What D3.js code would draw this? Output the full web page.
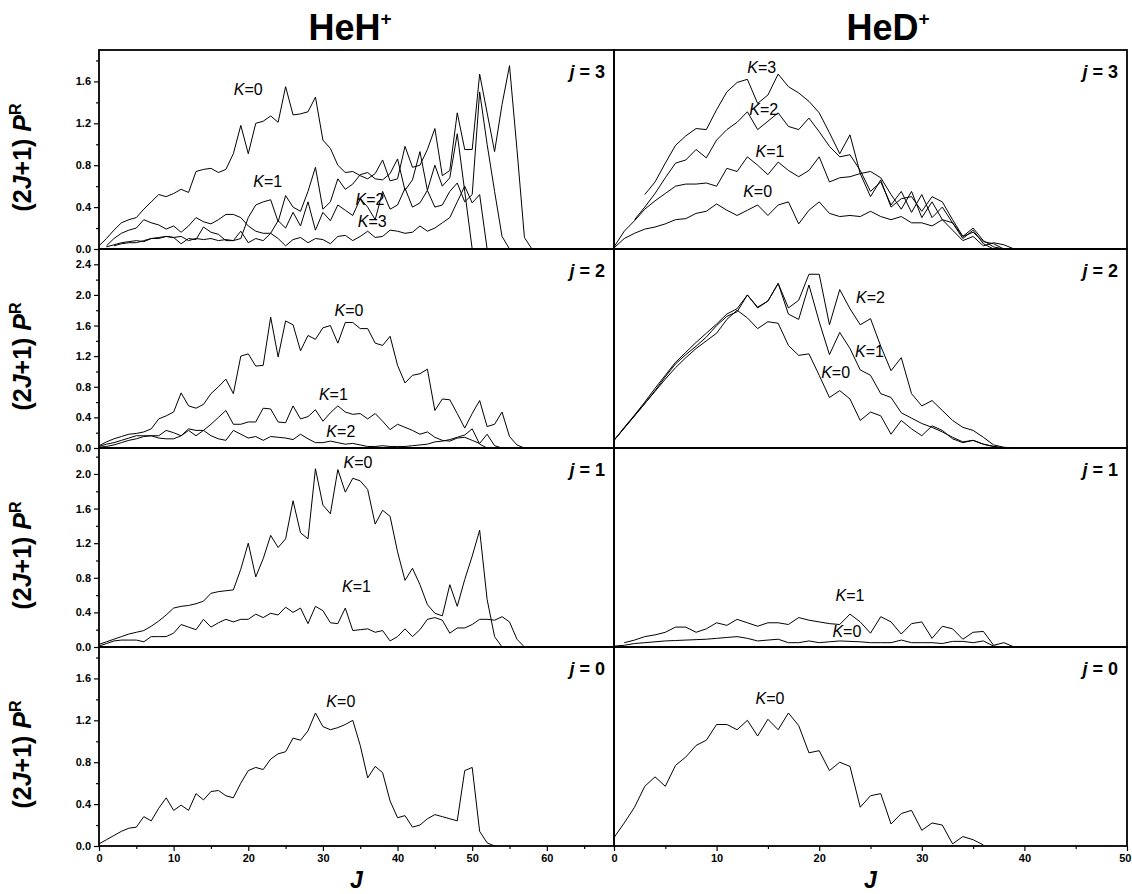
<!DOCTYPE html>
<html>
<head>
<meta charset="utf-8">
<script src="https://cdn.jsdelivr.net/npm/d3@7"></script>
<style>
  body { margin: 0; background: #fff; }
  svg { display: block; }
  text { font-family: "Liberation Sans", Arial, sans-serif; fill: #000; }
</style>
</head>
<body>
<svg id="chart" width="1132" height="894"></svg>
<script>
// panels: columns are molecules, rows are rotor states j
const molecules = ["HeH", "HeD"];
const rotorStates = [3, 2, 1, 0];

const jAxisMax = { HeH: 69, HeD: 50 };
const jTicks = { HeH: [0, 10, 20, 30, 40, 50, 60], HeD: [0, 10, 20, 30, 40, 50] };
const jMinorTicks = { HeH: [5, 15, 25, 35, 45, 55, 65], HeD: [5, 15, 25, 35, 45] };

const probMax = { 3: 1.9, 2: 2.6, 1: 2.3, 0: 1.9 };
const probTicks = {
  3: [0, 0.4, 0.8, 1.2, 1.6],
  2: [0, 0.4, 0.8, 1.2, 1.6, 2.0, 2.4],
  1: [0, 0.4, 0.8, 1.2, 1.6, 2.0],
  0: [0, 0.4, 0.8, 1.2, 1.6]
};
const probMinorTicks = {
  3: [0.2, 0.6, 1.0, 1.4, 1.8],
  2: [0.2, 0.6, 1.0, 1.4, 1.8, 2.2],
  1: [0.2, 0.6, 1.0, 1.4, 1.8, 2.2],
  0: [0.2, 0.6, 1.0, 1.4, 1.8]
};

// (2J+1) P^R, one value per integer J starting at the given first J
// HeH+ j = 3
const hehJ3K0 = [0.03, 0.10, 0.18, 0.25, 0.28, 0.30, 0.38, 0.45, 0.52, 0.50, 0.53, 0.57, 0.54, 0.74, 0.76, 0.77, 0.73, 0.76, 0.91, 1.18,
  0.91, 1.20, 1.22, 1.27, 1.21, 1.55, 1.28, 1.29, 1.31, 1.45, 1.04, 0.96, 0.80, 0.73, 0.74, 0.70, 0.67, 0.72, 0.85, 0.65,
  0.67, 0.98, 0.78, 0.80, 0.95, 1.15, 0.70, 0.75, 1.30, 0.95, 0.95, 1.67, 1.30, 0.93, 1.38, 1.75, 0.95, 0.11, 0.00];
const hehJ3K1 = [0.02, 0.04, 0.06, 0.07, 0.08, 0.07, 0.10, 0.10, 0.12, 0.11, 0.12, 0.08, 0.10, 0.09, 0.10, 0.08, 0.09, 0.08, 0.10,
  0.30, 0.42, 0.45, 0.47, 0.26, 0.51, 0.40, 0.36, 0.55, 0.78, 0.38, 0.45, 0.67, 0.57, 0.62, 0.71, 0.73, 0.67, 0.66, 0.72,
  0.86, 0.56, 0.66, 0.93, 0.56, 0.80, 0.60, 0.68, 1.10, 0.55, 0.00];
const hehJ3K2 = [0.03, 0.10, 0.15, 0.18, 0.20, 0.28, 0.25, 0.23, 0.19, 0.22, 0.16, 0.22, 0.30, 0.26, 0.24, 0.28, 0.33, 0.33, 0.30,
  0.22, 0.17, 0.15, 0.15, 0.27, 0.20, 0.35, 0.22, 0.45, 0.18, 0.35, 0.27, 0.42, 0.37, 0.32, 0.48, 0.40, 0.28, 0.55, 0.38,
  0.42, 0.58, 0.40, 0.44, 0.56, 0.40, 0.42, 0.55, 0.63, 0.45, 0.52, 1.50, 1.00, 0.55, 0.12, 0.00];
const hehJ3K3 = [0.03, 0.05, 0.06, 0.06, 0.08, 0.10, 0.11, 0.12, 0.11, 0.05, 0.10, 0.09, 0.21, 0.16, 0.14, 0.08, 0.08, 0.17, 0.06,
  0.10, 0.08, 0.15, 0.10, 0.03, 0.09, 0.11, 0.06, 0.10, 0.09, 0.05, 0.12, 0.13, 0.08, 0.12, 0.17, 0.11, 0.12, 0.18, 0.17,
  0.15, 0.16, 0.22, 0.17, 0.20, 0.25, 0.30, 0.45, 0.60, 0.44, 0.52, 0.00];
// HeD+ j = 3
const hedJ3K0 = [0.01, 0.10, 0.15, 0.19, 0.21, 0.24, 0.28, 0.29, 0.34, 0.36, 0.43, 0.37, 0.32, 0.37, 0.42, 0.32, 0.42, 0.45, 0.24, 0.37,
  0.45, 0.34, 0.31, 0.32, 0.31, 0.36, 0.31, 0.28, 0.31, 0.25, 0.25, 0.22, 0.28, 0.18, 0.08, 0.12, 0.03, 0.06, 0.04, 0.00];
const hedJ3K1 = [0.02, 0.17, 0.27, 0.38, 0.46, 0.53, 0.60, 0.62, 0.62, 0.63, 0.60, 0.77, 0.74, 0.88, 0.80, 0.71, 0.83, 0.75, 0.69, 0.75,
  0.88, 0.64, 0.68, 0.69, 0.72, 0.74, 0.68, 0.52, 0.38, 0.55, 0.30, 0.45, 0.28, 0.25, 0.12, 0.16, 0.07, 0.05, 0.00];
const hedJ3K2 = [0.28, 0.40, 0.53, 0.68, 0.82, 0.85, 0.95, 0.87, 1.04, 1.14, 1.21, 1.31, 1.14, 1.22, 1.30, 1.17, 1.14, 1.25, 1.12, 0.98,
  0.88, 0.90, 0.75, 0.55, 0.64, 0.42, 0.55, 0.35, 0.52, 0.30, 0.40, 0.25, 0.10, 0.18, 0.05, 0.00];
const hedJ3K3 = [0.52, 0.64, 0.82, 0.99, 1.08, 1.15, 1.14, 1.33, 1.50, 1.59, 1.62, 1.39, 1.47, 1.67, 1.55, 1.49, 1.41, 1.30, 1.11,
  0.91, 1.09, 0.72, 0.50, 0.66, 0.40, 0.48, 0.50, 0.36, 0.50, 0.45, 0.28, 0.12, 0.20, 0.08, 0.02, 0.00];
// HeH+ j = 2
const hehJ2K0 = [0.03, 0.08, 0.12, 0.15, 0.18, 0.19, 0.21, 0.25, 0.38, 0.42, 0.47, 0.72, 0.55, 0.52, 0.57, 0.71, 0.80, 0.90, 0.71, 1.20,
  1.23, 1.07, 1.08, 1.71, 1.19, 1.66, 1.61, 1.27, 1.47, 1.42, 1.57, 1.60, 1.37, 1.64, 1.64, 1.56, 1.56, 1.37, 1.34, 1.46,
  1.08, 0.85, 0.95, 0.97, 1.03, 0.49, 0.64, 0.63, 0.45, 0.26, 0.45, 0.62, 0.28, 0.31, 0.47, 0.15, 0.04, 0.00];
const hehJ2K1 = [0.02, 0.05, 0.07, 0.10, 0.13, 0.16, 0.16, 0.16, 0.13, 0.12, 0.12, 0.16, 0.23, 0.16, 0.23, 0.31, 0.40, 0.49, 0.31, 0.31,
  0.34, 0.34, 0.52, 0.51, 0.34, 0.33, 0.55, 0.38, 0.41, 0.50, 0.35, 0.46, 0.55, 0.47, 0.44, 0.45, 0.38, 0.45, 0.35, 0.24,
  0.31, 0.27, 0.23, 0.18, 0.21, 0.14, 0.10, 0.09, 0.13, 0.14, 0.10, 0.06, 0.18, 0.03, 0.00];
const hehJ2K2 = [0.01, 0.02, 0.04, 0.07, 0.10, 0.12, 0.15, 0.16, 0.16, 0.23, 0.20, 0.16, 0.25, 0.23, 0.23, 0.16, 0.12, 0.10, 0.23, 0.18,
  0.13, 0.15, 0.10, 0.15, 0.14, 0.13, 0.11, 0.18, 0.12, 0.07, 0.07, 0.09, 0.07, 0.05, 0.06, 0.04, 0.02, 0.02, 0.03, 0.02,
  0.02, 0.02, 0.03, 0.04, 0.05, 0.08, 0.09, 0.11, 0.14, 0.17, 0.25, 0.05, 0.00];
// HeD+ j = 2
const hedJ2K0 = [0.10, 0.26, 0.42, 0.58, 0.74, 0.90, 1.05, 1.18, 1.30, 1.40, 1.50, 1.68, 1.80, 1.70, 1.56, 1.65, 1.63, 1.34, 1.21, 1.23,
  0.95, 0.66, 0.75, 0.64, 0.36, 0.47, 0.42, 0.18, 0.36, 0.25, 0.16, 0.29, 0.23, 0.12, 0.07, 0.10, 0.05, 0.02, 0.00];
const hedJ2K1 = [0.10, 0.26, 0.42, 0.58, 0.75, 0.93, 1.10, 1.22, 1.33, 1.45, 1.60, 1.72, 1.78, 2.00, 1.83, 1.92, 2.15, 1.75, 1.68, 2.13,
  1.65, 1.22, 1.51, 1.30, 1.02, 0.95, 0.71, 0.66, 0.46, 0.39, 0.32, 0.27, 0.21, 0.14, 0.08, 0.10, 0.05, 0.02, 0.00];
const hedJ2K2 = [0.10, 0.27, 0.43, 0.60, 0.78, 0.95, 1.12, 1.25, 1.38, 1.50, 1.62, 1.75, 1.82, 2.00, 1.84, 1.92, 2.15, 1.83, 1.93, 2.27,
  2.27, 1.61, 2.07, 1.82, 1.61, 1.69, 1.33, 1.01, 1.18, 0.71, 0.55, 0.62, 0.49, 0.36, 0.27, 0.23, 0.14, 0.04, 0.01, 0.00];
// HeH+ j = 1
const hehJ1K0 = [0.03, 0.06, 0.09, 0.12, 0.15, 0.17, 0.19, 0.24, 0.30, 0.37, 0.45, 0.47, 0.48, 0.50, 0.53, 0.62, 0.64, 0.65, 0.66, 0.90,
  1.20, 0.81, 1.02, 1.29, 1.15, 1.25, 1.69, 1.32, 1.25, 2.06, 1.64, 1.54, 2.05, 1.79, 1.95, 1.92, 1.82, 1.42, 1.58, 1.51,
  1.10, 0.77, 0.91, 0.72, 0.49, 0.39, 0.36, 0.72, 0.47, 0.78, 1.05, 1.35, 0.55, 0.12, 0.00];
const hehJ1K1 = [0.01, 0.04, 0.07, 0.08, 0.08, 0.08, 0.06, 0.12, 0.12, 0.12, 0.16, 0.26, 0.23, 0.20, 0.32, 0.23, 0.28, 0.32, 0.29, 0.32,
  0.32, 0.38, 0.34, 0.39, 0.37, 0.46, 0.40, 0.45, 0.27, 0.47, 0.42, 0.28, 0.27, 0.45, 0.19, 0.20, 0.21, 0.17, 0.19, 0.07,
  0.12, 0.21, 0.12, 0.20, 0.32, 0.34, 0.31, 0.16, 0.22, 0.22, 0.26, 0.32, 0.32, 0.31, 0.35, 0.29, 0.09, 0.00];
// HeD+ j = 1
const hedJ1K0 = [0.01, 0.02, 0.04, 0.05, 0.06, 0.07, 0.075, 0.08, 0.085, 0.09, 0.10, 0.11, 0.12, 0.10, 0.07, 0.08, 0.09, 0.05, 0.05, 0.07,
  0.05, 0.06, 0.07, 0.065, 0.06, 0.05, 0.05, 0.05, 0.08, 0.05, 0.05, 0.05, 0.04, 0.065, 0.065, 0.05, 0.07, 0.01, 0.00];
const hedJ1K1 = [0.05, 0.08, 0.12, 0.14, 0.17, 0.23, 0.23, 0.17, 0.21, 0.28, 0.25, 0.32, 0.28, 0.24, 0.28, 0.28, 0.26, 0.34, 0.31,
  0.29, 0.27, 0.26, 0.38, 0.29, 0.16, 0.35, 0.29, 0.15, 0.27, 0.29, 0.10, 0.24, 0.21, 0.09, 0.17, 0.18, 0.02, 0.05, 0.00];
// j = 0
const hehJ0K0 = [0.02, 0.06, 0.10, 0.14, 0.17, 0.18, 0.28, 0.24, 0.36, 0.46, 0.34, 0.39, 0.34, 0.50, 0.44, 0.52, 0.53, 0.48, 0.46, 0.60,
  0.72, 0.75, 0.73, 0.83, 0.88, 0.90, 1.03, 1.01, 1.10, 1.27, 1.14, 1.11, 1.13, 1.16, 1.20, 0.96, 0.65, 0.76, 0.70, 0.43,
  0.27, 0.29, 0.18, 0.20, 0.26, 0.30, 0.28, 0.26, 0.24, 0.72, 0.75, 0.14, 0.03, 0.00];
const hedJ0K0 = [0.08, 0.22, 0.37, 0.57, 0.66, 0.57, 0.77, 0.85, 0.96, 1.01, 1.16, 1.16, 1.11, 1.20, 1.05, 1.21, 1.11, 1.27, 1.15, 0.89,
  0.91, 0.72, 0.80, 0.76, 0.37, 0.48, 0.50, 0.21, 0.31, 0.34, 0.15, 0.22, 0.20, 0.02, 0.09, 0.06, 0.01];

const series = [
  { mol: "HeH", j: 3, k: 0, from: 0, values: hehJ3K0 },
  { mol: "HeH", j: 3, k: 1, from: 1, values: hehJ3K1 },
  { mol: "HeH", j: 3, k: 2, from: 1, values: hehJ3K2 },
  { mol: "HeH", j: 3, k: 3, from: 2, values: hehJ3K3 },
  { mol: "HeD", j: 3, k: 0, from: 0, values: hedJ3K0 },
  { mol: "HeD", j: 3, k: 1, from: 0, values: hedJ3K1 },
  { mol: "HeD", j: 3, k: 2, from: 2, values: hedJ3K2 },
  { mol: "HeD", j: 3, k: 3, from: 3, values: hedJ3K3 },
  { mol: "HeH", j: 2, k: 0, from: 0, values: hehJ2K0 },
  { mol: "HeH", j: 2, k: 1, from: 0, values: hehJ2K1 },
  { mol: "HeH", j: 2, k: 2, from: 0, values: hehJ2K2 },
  { mol: "HeD", j: 2, k: 0, from: 0, values: hedJ2K0 },
  { mol: "HeD", j: 2, k: 1, from: 0, values: hedJ2K1 },
  { mol: "HeD", j: 2, k: 2, from: 0, values: hedJ2K2 },
  { mol: "HeH", j: 1, k: 0, from: 0, values: hehJ1K0 },
  { mol: "HeH", j: 1, k: 1, from: 0, values: hehJ1K1 },
  { mol: "HeD", j: 1, k: 0, from: 0, values: hedJ1K0 },
  { mol: "HeD", j: 1, k: 1, from: 1, values: hedJ1K1 },
  { mol: "HeH", j: 0, k: 0, from: 0, values: hehJ0K0 },
  { mol: "HeD", j: 0, k: 0, from: 0, values: hedJ0K0 }
];

// curve labels, placed in data units (J, value of the baseline)
const kLabels = [
  { mol: "HeH", j: 3, k: 0, at: [20, 1.47] },
  { mol: "HeH", j: 3, k: 1, at: [22.6, 0.59] },
  { mol: "HeH", j: 3, k: 2, at: [36.3, 0.42] },
  { mol: "HeH", j: 3, k: 3, at: [36.6, 0.21] },
  { mol: "HeD", j: 3, k: 3, at: [14.4, 1.68] },
  { mol: "HeD", j: 3, k: 2, at: [14.6, 1.28] },
  { mol: "HeD", j: 3, k: 1, at: [15.2, 0.88] },
  { mol: "HeD", j: 3, k: 0, at: [14.0, 0.50] },
  { mol: "HeH", j: 2, k: 0, at: [33.5, 1.73] },
  { mol: "HeH", j: 2, k: 1, at: [31.4, 0.63] },
  { mol: "HeH", j: 2, k: 2, at: [32.4, 0.14] },
  { mol: "HeD", j: 2, k: 2, at: [25.0, 1.90] },
  { mol: "HeD", j: 2, k: 1, at: [24.9, 1.19] },
  { mol: "HeD", j: 2, k: 0, at: [21.6, 0.92] },
  { mol: "HeH", j: 1, k: 0, at: [34.7, 2.07] },
  { mol: "HeH", j: 1, k: 1, at: [34.5, 0.64] },
  { mol: "HeD", j: 1, k: 1, at: [23.0, 0.53] },
  { mol: "HeD", j: 1, k: 0, at: [22.7, 0.12] },
  { mol: "HeH", j: 0, k: 0, at: [32.4, 1.33] },
  { mol: "HeD", j: 0, k: 0, at: [15.2, 1.36] }
];

const titles = { HeH: "HeH", HeD: "HeD" };
const titleX = { HeH: 350, HeD: 888 };

const panelX = { HeH: [99, 614], HeD: [614, 1127] };
const plotTop = 50;
const rowHeight = 199;

const svg = d3.select("#chart");
const fmt = d3.format(".1f");

rotorStates.forEach((j, row) => {
  const rowTop = plotTop + row * rowHeight;
  const rowBottom = rowTop + rowHeight;

  const yScale = d3.scaleLinear()
    .domain([0, probMax[j]])
    .range([rowBottom, rowTop]);

  molecules.forEach(mol => {
    const [x0, x1] = panelX[mol];
    const xScale = d3.scaleLinear()
      .domain([0, jAxisMax[mol]])
      .range([x0, x1]);

    const line = d3.line()
      .x(d => xScale(d.J))
      .y(d => yScale(d.v));

    const g = svg.append("g");

    series.filter(s => s.mol === mol && s.j === j).forEach(s => {
      const points = s.values.map((v, i) => ({ J: s.from + i, v }));
      g.append("path")
        .datum(points)
        .attr("d", line)
        .attr("fill", "none")
        .attr("stroke", "#000")
        .attr("stroke-width", 1)
        .attr("stroke-linejoin", "miter");
    });

    g.append("rect")
      .attr("x", x0)
      .attr("y", rowTop)
      .attr("width", x1 - x0)
      .attr("height", rowHeight)
      .attr("fill", "none")
      .attr("stroke", "#000")
      .attr("stroke-width", 1.8);

    // rotor state label, top right
    const jLabel = g.append("text")
      .attr("x", x1 - 9)
      .attr("y", rowTop + 28)
      .attr("text-anchor", "end")
      .style("font-size", "18px")
      .style("font-weight", "bold");
    jLabel.append("tspan").style("font-style", "italic").text("j");
    jLabel.append("tspan").text(" = " + j);

    kLabels.filter(l => l.mol === mol && l.j === j).forEach(l => {
      const t = g.append("text")
        .attr("x", xScale(l.at[0]))
        .attr("y", yScale(l.at[1]))
        .attr("text-anchor", "middle")
        .style("font-size", "16px");
      t.append("tspan").style("font-style", "italic").text("K");
      t.append("tspan").text("=" + l.k);
    });

    if (mol === "HeH") {
      const yAxis = g.append("g")
        .attr("transform", `translate(${x0}, 0)`)
        .call(d3.axisLeft(yScale).tickValues(probTicks[j]).tickFormat(fmt).tickSize(5).tickPadding(3));
      yAxis.select(".domain").remove();
      yAxis.selectAll("text")
        .style("font-size", "11px")
        .style("font-weight", "bold")
        .style("font-family", "'Liberation Sans', Arial, sans-serif");
      yAxis.selectAll("line").attr("stroke-width", 1.2);

      const yMinor = g.append("g")
        .attr("transform", `translate(${x0}, 0)`)
        .call(d3.axisLeft(yScale).tickValues(probMinorTicks[j]).tickFormat("").tickSize(3));
      yMinor.select(".domain").remove();
      yMinor.selectAll("line").attr("stroke-width", 1.2);

      const yTitle = svg.append("text")
        .attr("transform", `translate(31, ${(rowTop + rowBottom) / 2 + 8}) rotate(-90)`)
        .attr("text-anchor", "middle")
        .style("font-size", "25px")
        .style("font-weight", "bold");
      yTitle.append("tspan").text("(2");
      yTitle.append("tspan").style("font-style", "italic").text("J");
      yTitle.append("tspan").text("+1) ");
      yTitle.append("tspan").style("font-style", "italic").text("P");
      yTitle.append("tspan").attr("dy", -10).style("font-size", "16px").text("R");
    }

    if (row === rotorStates.length - 1) {
      const xAxis = g.append("g")
        .attr("transform", `translate(0, ${rowBottom})`)
        .call(d3.axisBottom(xScale).tickValues(jTicks[mol]).tickFormat(d3.format("d")).tickSize(5).tickPadding(3));
      xAxis.select(".domain").remove();
      xAxis.selectAll("text")
        .style("font-size", "11px")
        .style("font-weight", "bold")
        .style("font-family", "'Liberation Sans', Arial, sans-serif");
      // keep the last label of the right panel inside the page
      xAxis.selectAll(".tick text")
        .filter(d => x1 > 1100 && d === jAxisMax[mol])
        .attr("text-anchor", "end")
        .attr("dx", 4);
      xAxis.selectAll("line").attr("stroke-width", 1.2);

      const xMinor = g.append("g")
        .attr("transform", `translate(0, ${rowBottom})`)
        .call(d3.axisBottom(xScale).tickValues(jMinorTicks[mol]).tickFormat("").tickSize(3));
      xMinor.select(".domain").remove();
      xMinor.selectAll("line").attr("stroke-width", 1.2);

      svg.append("text")
        .attr("x", (x0 + x1) / 2)
        .attr("y", 888)
        .attr("text-anchor", "middle")
        .style("font-size", "23px")
        .style("font-weight", "bold")
        .style("font-style", "italic")
        .text("J");
    }

    if (row === 0) {
      const title = svg.append("text")
        .attr("x", titleX[mol])
        .attr("y", 40)
        .attr("text-anchor", "middle")
        .style("font-size", "36px")
        .style("font-weight", "bold");
      title.append("tspan").text(titles[mol]);
      title.append("tspan").attr("dy", -15).style("font-size", "19px").text("+");
    }
  });
});
</script>
</body>
</html>
